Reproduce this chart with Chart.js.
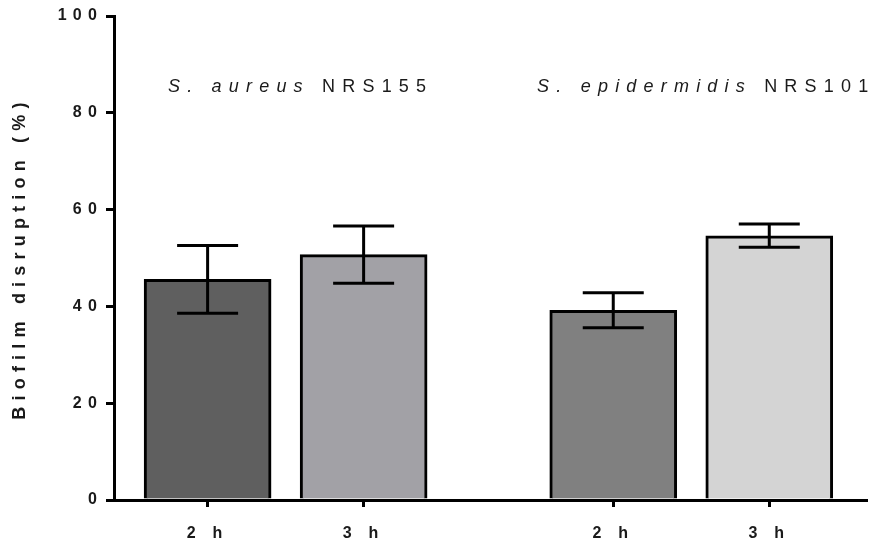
<!DOCTYPE html>
<html>
<head>
<meta charset="utf-8">
<script src="https://cdn.jsdelivr.net/npm/chart.js@4/dist/chart.umd.min.js"></script>
<style>
  html, body { margin: 0; padding: 0; background: #fff; }
  #wrap { width: 879px; height: 539px; }
</style>
</head>
<body>
<div id="wrap"><canvas id="grafico" width="879" height="539"></canvas></div>
<script>
// dados
const TIME_LABELS = ['2 h', '3 h', '2 h', '3 h'];
const TIME_POS = [1, 2, 3.6, 4.6];          // posição no eixo x (deixa um espaço entre cepas)
const DISRUPTION = [45.6, 50.7, 39.2, 54.6];
const ERROR = [7.0, 5.9, 3.6, 2.4];
const STRAIN_NAMES = ['S. aureus', 'S. epidermidis'];
const STRAIN_IDS = ['NRS155', 'NRS101'];
const STRAIN_POS = [1.5, 4.1];
const Y_TICKS = [0, 20, 40, 60, 80, 100];

const CORES = ['#5f5f5f', '#a2a1a6', '#808080', '#d4d4d4'];
const FONTE = '"Liberation Sans", Arial, sans-serif';

// barras de erro + rótulos das cepas
const extras = {
  id: 'extras',
  beforeDraw(chart) {
    chart.ctx.letterSpacing = '6.2px';
  },
  afterDatasetsDraw(chart) {
    const ctx = chart.ctx;
    const x = chart.scales.x, y = chart.scales.y;
    ctx.save();
    ctx.strokeStyle = '#000';
    ctx.lineWidth = 3;
    DISRUPTION.forEach((v, i) => {
      const px = x.getPixelForValue(TIME_POS[i]);
      const top = y.getPixelForValue(v + ERROR[i]);
      const bot = y.getPixelForValue(v - ERROR[i]);
      ctx.beginPath();
      ctx.moveTo(px, top); ctx.lineTo(px, bot);
      ctx.moveTo(px - 30.5, top); ctx.lineTo(px + 30.5, top);
      ctx.moveTo(px - 30.5, bot); ctx.lineTo(px + 30.5, bot);
      ctx.stroke();
    });

    ctx.letterSpacing = '7.2px';
    ctx.fillStyle = '#1a1a1a';
    ctx.textBaseline = 'alphabetic';
    ctx.textAlign = 'left';
    const fIt = 'italic 18px ' + FONTE;
    const fNo = '18px ' + FONTE;
    STRAIN_NAMES.forEach((nome, i) => {
      ctx.font = fIt;
      const w1 = ctx.measureText(nome + ' ').width;
      ctx.font = fNo;
      const w2 = ctx.measureText(STRAIN_IDS[i]).width;
      let px = x.getPixelForValue(STRAIN_POS[i]) - (w1 + w2) / 2 + 15;
      const py = y.getPixelForValue(84.3);
      ctx.font = fIt;
      ctx.fillText(nome + ' ', px, py);
      ctx.font = fNo;
      ctx.fillText(STRAIN_IDS[i], px + w1, py);
    });
    ctx.restore();
  }
};

new Chart(document.getElementById('grafico'), {
  type: 'bar',
  data: {
    datasets: [{
      data: DISRUPTION.map((v, i) => ({ x: TIME_POS[i], y: v })),
      backgroundColor: CORES,
      borderColor: '#000',
      borderWidth: 3,
      borderSkipped: 'start',
      barThickness: 127
    }]
  },
  options: {
    responsive: false,
    animation: false,
    layout: { padding: { top: 16, right: 13, left: 0, bottom: 0 } },
    plugins: { legend: { display: false }, tooltip: { enabled: false } },
    scales: {
      x: {
        type: 'linear',
        min: 0.4,
        max: 5.22,
        offset: false,
        afterFit: (s) => { s.height = 39; },
        afterBuildTicks: (s) => { s.ticks = TIME_POS.map(v => ({ value: v })); },
        ticks: {
          callback: (v, i) => TIME_LABELS[i],
          color: '#1a1a1a',
          font: { family: FONTE, size: 16, weight: 'bold' },
          padding: 17,
          maxRotation: 0,
          autoSkip: false
        },
        grid: { offset: false, drawOnChartArea: false, drawTicks: true, tickLength: 7, lineWidth: 3, color: '#000' },
        border: { display: true, width: 3, color: '#000' }
      },
      y: {
        min: 0,
        max: 100,
        afterFit: (s) => { s.width = 114; },
        afterBuildTicks: (s) => { s.ticks = Y_TICKS.map(v => ({ value: v })); },
        ticks: {
          color: '#1a1a1a',
          font: { family: FONTE, size: 16, weight: 'bold' },
          padding: 3
        },
        grid: { drawOnChartArea: false, drawTicks: true, tickLength: 8, lineWidth: 3, color: '#000' },
        border: { display: true, width: 3, color: '#000' },
        title: {
          display: true,
          text: 'Biofilm disruption (%)',
          color: '#1a1a1a',
          font: { family: FONTE, size: 18, weight: 'bold' },
          padding: { top: 9, bottom: 0 }
        }
      }
    }
  },
  plugins: [extras]
});
</script>
</body>
</html>
